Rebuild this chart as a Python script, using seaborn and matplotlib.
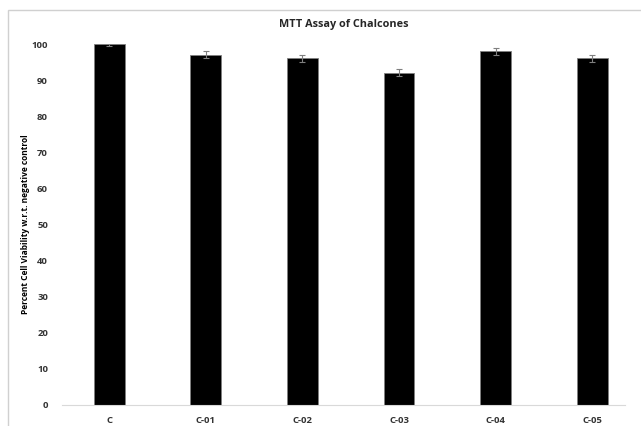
import numpy as np
import pandas as pd
import seaborn as sns
import matplotlib.pyplot as plt
from matplotlib.patches import Rectangle

compounds = ["C", "C-01", "C-02", "C-03", "C-04", "C-05"]
viability = [100, 97, 96, 92, 98, 96]
errors = [0.5, 1.0, 1.0, 1.0, 1.0, 1.0]

df = pd.DataFrame({"compound": compounds, "viability": viability})

sns.set_style("white")
plt.rcParams["font.family"] = ["Open Sans", "DejaVu Sans"]

fig = plt.figure(figsize=(6.41, 4.26), dpi=100)
fig.add_artist(Rectangle((8 / 641, -0.1), 1.0, 1.1 - 10 / 426,
                         transform=fig.transFigure, fill=False,
                         edgecolor="#d0d0d0", linewidth=1))
ax = fig.add_axes([62 / 641, 21 / 426, 563 / 641, 361 / 426])

sns.barplot(data=df, x="compound", y="viability", color="black",
            width=0.32, edgecolor="#808080", linewidth=0.6, ax=ax)
ax.errorbar(np.arange(len(compounds)), viability, yerr=errors, fmt="none",
            ecolor="#7f7f7f", elinewidth=0.8, capsize=2.5, capthick=0.8)

ax.set_ylim(0, 100)
ax.set_xlim(-0.49, 5.34)
ax.set_yticks(range(0, 101, 10))
ax.tick_params(axis="both", length=0, labelsize=6.8, colors="#333333")
for lbl in ax.get_xticklabels() + ax.get_yticklabels():
    lbl.set_fontweight("bold")
ax.tick_params(axis="y", pad=10)
ax.tick_params(axis="x", pad=8)
ax.set_xlabel("")
ax.set_ylabel("Percent Cell Viability w.r.t. negative control", fontsize=6,
              fontweight="bold", color="black")
ax.yaxis.set_label_coords(-32 / 563, 0.5)
sns.despine(ax=ax, left=True, top=True, right=True)
ax.spines["bottom"].set_color("#d9d9d9")
ax.set_title("MTT Assay of Chalcones", fontsize=7.8, fontweight="bold",
             color="#262626", pad=12)

fig.savefig("out.png", dpi=100)
